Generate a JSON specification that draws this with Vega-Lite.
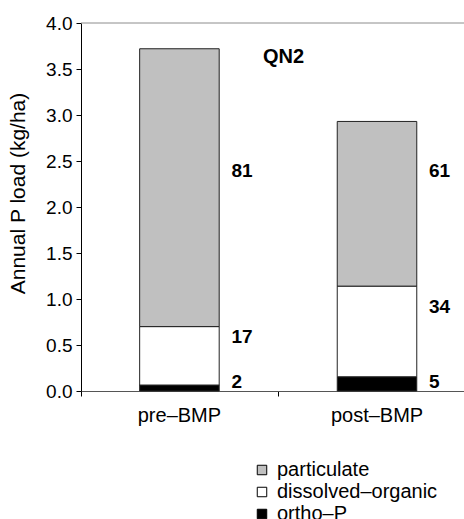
{
  "$schema": "https://vega.github.io/schema/vega-lite/v6.json",
  "width": 383,
  "height": 368,
  "autosize": {"type": "none"},
  "padding": {"left": 81, "top": 23, "right": 0, "bottom": 128},
  "background": "white",
  "config": {
    "view": {"stroke": null},
    "font": "Liberation Sans",
    "axis": {"labelColor": "#000", "titleColor": "#000", "labelFont": "Liberation Sans", "titleFont": "Liberation Sans"},
    "legend": {"labelFont": "Liberation Sans"}
  },
  "datasets": {
    "loads": [
      {"period": "pre–BMP", "component": "ortho–P", "order": 1, "load": 0.065, "pct": "2", "label_y": 0.098},
      {"period": "pre–BMP", "component": "dissolved–organic", "order": 2, "load": 0.635, "pct": "17", "label_y": 0.587},
      {"period": "pre–BMP", "component": "particulate", "order": 3, "load": 3.02, "pct": "81", "label_y": 2.39},
      {"period": "post–BMP", "component": "ortho–P", "order": 1, "load": 0.155, "pct": "5", "label_y": 0.098},
      {"period": "post–BMP", "component": "dissolved–organic", "order": 2, "load": 0.985, "pct": "34", "label_y": 0.916},
      {"period": "post–BMP", "component": "particulate", "order": 3, "load": 1.79, "pct": "61", "label_y": 2.39}
    ],
    "site": [{"name": "QN2", "period": "pre–BMP", "y": 3.63}],
    "frame": [{"top": 4}]
  },
  "layer": [
    {
      "data": {"name": "frame"},
      "mark": {"type": "rule", "color": "#8c8c8c", "strokeWidth": 1},
      "encoding": {
        "y": {"field": "top", "type": "quantitative", "title": "Annual P load (kg/ha)"}
      }
    },
    {
      "data": {"name": "loads"},
      "mark": {"type": "bar", "stroke": "#222", "strokeWidth": 1},
      "encoding": {
        "x": {
          "field": "period", "type": "nominal", "sort": ["pre–BMP", "post–BMP"],
          "scale": {"domain": ["pre–BMP", "post–BMP"], "paddingInner": 0.5975, "paddingOuter": 0.268, "align": 0.554},
          "axis": {"title": null, "labelAngle": 0, "labelFontSize": 20, "labelPadding": 9, "domainColor": "#555", "tickColor": "#000", "tickSize": 5, "bandPosition": -0.733}
        },
        "y": {
          "field": "load", "type": "quantitative", "stack": "zero",
          "scale": {"domain": [0, 4], "nice": false},
          "title": "Annual P load (kg/ha)",
          "axis": {
            "values": [0, 0.5, 1, 1.5, 2, 2.5, 3, 3.5, 4], "format": ".1f", "grid": false,
            "labelFontSize": 19, "labelPadding": 4, "tickSize": 5, "domainColor": "#000", "tickColor": "#000",
            "titleFontSize": 21, "titleFontWeight": "normal", "titleX": -63, "titleY": 170, "titleBaseline": "middle", "titleAngle": -90
          }
        },
        "order": {"field": "order", "type": "quantitative"},
        "color": {
          "field": "component", "type": "nominal",
          "scale": {"domain": ["particulate", "dissolved–organic", "ortho–P"], "range": ["#c0c0c0", "#ffffff", "#000000"]},
          "legend": {
            "title": null, "orient": "none", "legendX": 171, "legendY": 437,
            "symbolType": "square", "symbolSize": 90, "symbolStrokeColor": "#000", "symbolStrokeWidth": 1, "symbolOpacity": 1,
            "labelFontSize": 20, "labelColor": "#000", "labelOffset": 5, "rowPadding": 2, "labelLimit": 400
          }
        }
      }
    },
    {
      "data": {"name": "loads"},
      "mark": {"type": "text", "fontWeight": "bold", "fontSize": 19, "align": "left", "baseline": "middle", "dx": 52, "color": "#000"},
      "encoding": {
        "x": {"field": "period", "type": "nominal"},
        "y": {"field": "label_y", "type": "quantitative", "stack": null, "title": "Annual P load (kg/ha)"},
        "text": {"field": "pct"}
      }
    },
    {
      "data": {"name": "site"},
      "mark": {"type": "text", "fontWeight": "bold", "fontSize": 20, "align": "left", "baseline": "middle", "dx": 83.5, "color": "#000"},
      "encoding": {
        "x": {"field": "period", "type": "nominal"},
        "y": {"field": "y", "type": "quantitative", "title": "Annual P load (kg/ha)"},
        "text": {"field": "name"}
      }
    }
  ]
}
